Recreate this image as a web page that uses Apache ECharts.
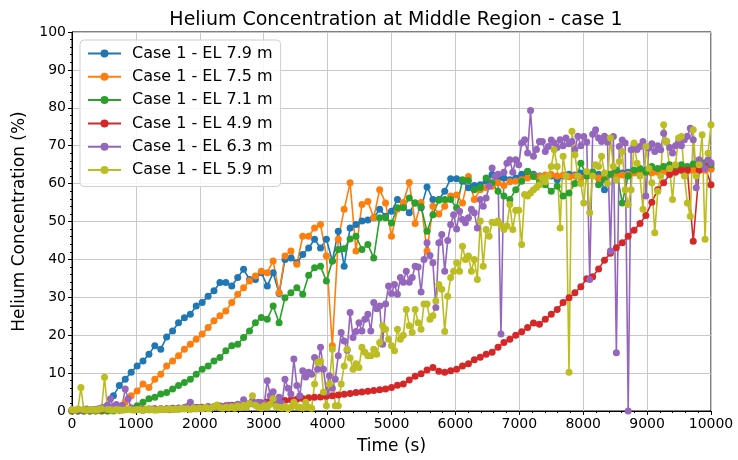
<!DOCTYPE html>
<html>
<head>
<meta charset="utf-8">
<script src="https://cdn.jsdelivr.net/npm/echarts@6/dist/echarts.min.js"></script>
<style>html,body{margin:0;padding:0;background:#fff}#c{width:738px;height:460px}</style>
</head>
<body>
<div id="c"></div>
<script>
const seriesNames = ["Case 1 - EL 7.9 m","Case 1 - EL 7.5 m","Case 1 - EL 7.1 m","Case 1 - EL 4.9 m","Case 1 - EL 6.3 m","Case 1 - EL 5.9 m"];
const xTicks = [0,1000,2000,3000,4000,5000,6000,7000,8000,9000,10000];
const yTicks = [0,10,20,30,40,50,60,70,80,90,100];

// sample times (s) for the four smooth probes
const times = [0,93,185,278,370,463,556,648,741,833,926,1019,1111,1204,1296,1389,1481,1574,1667,1759,1852,1944,2037,2130,2222,2315,2407,2500,2593,2685,2778,2870,2963,3056,3148,3241,3333,3426,3519,3611,3704,3796,3889,3981,4074,4167,4259,4352,4444,4537,4630,4722,4815,4907,5000,5093,5185,5278,5370,5463,5556,5648,5741,5833,5926,6019,6111,6204,6296,6389,6481,6574,6667,6759,6852,6944,7037,7130,7222,7315,7407,7500,7593,7685,7778,7870,7963,8056,8148,8241,8333,8426,8519,8611,8704,8796,8889,8981,9074,9167,9259,9352,9444,9537,9630,9722,9815,9907,10000];

// sample times (s) for the two noisy probes
const timesFine = [0,46,93,139,185,231,278,324,370,417,463,509,556,602,648,694,741,787,833,880,926,972,1019,1065,1111,1157,1204,1250,1296,1343,1389,1435,1481,1528,1574,1620,1667,1713,1759,1806,1852,1898,1944,1991,2037,2083,2130,2176,2222,2269,2315,2361,2407,2454,2500,2546,2593,2639,2685,2731,2778,2824,2870,2917,2963,3009,3056,3102,3148,3194,3241,3287,3333,3380,3426,3472,3519,3565,3611,3657,3704,3750,3796,3843,3889,3935,3981,4028,4074,4120,4167,4213,4259,4306,4352,4398,4444,4491,4537,4583,4630,4676,4722,4769,4815,4861,4907,4954,5000,5046,5093,5139,5185,5231,5278,5324,5370,5417,5463,5509,5556,5602,5648,5694,5741,5787,5833,5880,5926,5972,6019,6065,6111,6157,6204,6250,6296,6343,6389,6435,6481,6528,6574,6620,6667,6713,6759,6806,6852,6898,6944,6991,7037,7083,7130,7176,7222,7269,7315,7361,7407,7454,7500,7546,7593,7639,7685,7731,7778,7824,7870,7917,7963,8009,8056,8102,8148,8194,8241,8287,8333,8380,8426,8472,8519,8565,8611,8657,8704,8750,8796,8843,8889,8935,8981,9028,9074,9120,9167,9213,9259,9306,9352,9398,9444,9491,9537,9583,9630,9676,9722,9769,9815,9861,9907,9954,10000];

const el79 = [0,0,0,0,0.3,0.8,1.4,4,6.7,8.4,10.2,11.9,13.2,15,17.2,16.3,19.5,21.1,23.3,24.6,25.5,27.7,28.6,30.3,31.7,33.9,33.9,33,35.2,37.4,34.7,34.7,36.5,33,36.5,31,40,40.4,39.1,41.3,43,45.3,43,45.3,39.6,47.4,38.2,48.3,49.2,50.1,50.4,51,53.2,51.4,52.7,55.8,54,52.3,54.9,53.6,59.1,55.8,55.8,58,61.3,61.3,60.6,58.9,59.5,59.7,60.6,62.4,61.5,61.5,61,61.5,62.5,63.2,62.5,62,61.8,62,61,62,62.5,62.3,62.8,62.5,63,62.5,58.4,62.5,63,62.8,63,63.5,63,63.5,63.5,63.2,63.5,63.8,63.5,64,63.8,64,64.2,64,64];

const el75 = [0,0,0,0,0,0,0,0.3,1,2.3,4,5.3,7.1,6.2,8.4,9.7,11.9,13.2,14.6,16.3,17.6,18.9,20.3,22,23.8,25.1,26.4,28.6,30.8,32.5,34.3,35.6,36.9,36.5,39.6,31.2,40.9,42.2,38.7,46.1,46.1,48.3,49.2,40.9,17.2,45.3,53.2,60.2,42.2,54.5,55.3,51,58.4,54.9,46.1,53.2,55,60.3,49.5,55,42.2,54,52,54,56.7,57,54.9,61.9,55.8,58.4,58.9,59.3,60.2,59.5,60.5,60.6,61,61.5,62,61.9,62.3,62.4,62,62.2,61.8,62,61.5,62,62.3,61.5,62,62.5,62,62.3,62.5,62.8,62.5,63,62.8,63,63.2,63,63.2,63.5,63.3,63.5,63.6,63.5,63.8];

const el71 = [0,0,0,0,0,0,0,0,0.2,0.4,0.8,1.4,2.3,3.2,3.6,4.5,4.9,5.8,6.7,7.5,8.4,9.7,11,11.9,13.2,14.1,15.9,17.2,17.6,19.4,21.1,23.3,24.7,24.2,27.7,23.3,29.9,31.2,32.5,30.8,35.8,37.8,38.2,34.3,39.6,42.6,42.8,45.4,46.1,42.6,43.9,40.4,51,51,49.6,53.6,53.6,56.2,54.9,53.9,47.4,51.8,55.6,55.8,55.8,53.6,61,60.8,58.4,59,61.5,60.2,58,56.7,55.8,58.4,60.6,63.2,61.9,60.2,59.7,58,59.3,56.7,57.5,60,65.4,62,63,59.7,61,62.5,63.5,54.9,62,63.5,64,63,64.5,64,64.5,65,64.5,65,64.5,65.2,65,65.5,65];

const el49 = [0.2,0.2,0.2,0.3,0.2,0.3,0.3,0.3,0.4,0.4,0.4,0.5,0.5,0.5,0.6,0.6,0.6,0.7,0.7,0.8,0.8,0.9,1,1.1,1.2,1.3,1.4,1.5,1.6,1.8,1.9,2,2.2,2.4,2.5,2.7,2.8,3,3.1,3.3,3.5,3.6,3.7,3.9,4,4.2,4.4,4.6,4.9,5,5.2,5.4,5.6,5.8,6.2,6.8,7.1,8.2,9.2,9.8,10.8,11.5,10.5,10.2,10.6,11,11.9,12.5,13.5,14.2,15,15.5,16.8,18.1,18.9,20,20.9,22,23.2,22.9,24.2,25.5,26.8,28.6,29.9,31.2,32.8,34.9,35.4,37.5,39.8,41.6,43.1,44.4,46.1,47.7,49.5,51.6,55.1,58.4,60.2,62.4,63,63.5,63.5,44.8,63.5,64.5,59.7];

const el63 = [0.3,0.2,0.4,0.2,0.3,0.5,0.2,0.4,0.3,0.6,0.5,1,1.5,3.2,1,1.7,0.8,1.5,5.8,3.2,0.8,0.4,0.3,0.5,0.2,0.4,0.3,0.5,0.4,0.3,0.6,0.4,0.5,0.3,0.6,0.5,0.8,0.6,0.9,1.2,2.3,1,0.7,0.9,0.6,0.8,1.1,0.7,0.9,1.3,0.8,1.2,1,1.5,1.1,1.4,1.8,1.2,3,1.5,2,2.7,1.6,2.3,1.2,2,8,4,5.1,2.5,3.6,2,8.4,6,4.5,13.7,6.7,4,10.6,9,10.2,9.7,14.1,11,16.8,11,5,9.3,6,8.4,14.6,20.7,18.5,16,26,19.4,21,23.3,21.1,24.2,25.5,21.1,28.6,27,27.7,17.6,28.2,33,31,33.4,30.8,35.2,34,36.9,34,35.2,38.2,38,31.4,40,44.4,41,39.1,27.3,44.4,46.6,36.9,45,49.2,51.8,48,52.7,50.5,49.7,51,53.2,52.3,48.3,55.8,54,56.2,59.3,64.1,61.9,62.5,20.3,63,65.4,66.3,63,66.3,65,70.7,71.6,68.1,79.3,67.2,69,71.1,71.1,68.5,69.8,71.5,70.7,69.5,71.6,70,72,70.5,71.1,69,72.5,70,72.4,71,34.7,73,74.2,72,71.1,72.5,71,42.2,72.4,15.4,69.8,71.5,70.7,0,68.9,70.3,69,69.8,71.1,56.7,69.4,70.5,68.5,70,68.9,73.3,71.1,69.5,68.1,70,71,70,71.6,72.5,74.6,71.6,58.9,66.3,65,64,66.3,65.5];

const el59 = [0.3,0.2,0.5,6.2,0.3,0.2,0.4,0.3,0.2,0.4,0.6,8.9,0.4,0.3,0.2,0.4,0.3,0.2,0.3,0.5,0.3,0.2,0.4,0.3,0.2,0.5,0.3,0.4,0.2,0.3,0.5,0.3,0.4,0.6,0.3,0.5,0.4,0.7,0.5,0.6,0.4,0.8,0.5,0.7,0.6,1,0.6,0.8,1.2,1.6,0.9,0.7,1,0.8,1.1,0.7,1.3,0.9,1.5,1,2,4,1.5,1,0.8,1.4,1,1.8,3.2,1.2,1,0.8,1.2,0.6,1,2.3,1.2,1,0.8,2.3,1,0.7,7.1,12.8,13.2,5,1.4,7.1,16.3,1.4,1.4,7.1,11.9,16.3,14,11,12.5,11.5,16.8,15.5,14.6,14.6,16.3,15,18.1,22.5,21.6,18.9,17.2,15.9,21.6,18.9,20,26.8,22.5,20.7,26.8,23.3,21.6,28.2,28.2,24.2,25.1,29,33.4,32.1,21,30.3,35.2,36.9,39.1,36.9,43.5,40,40.9,36.9,40,34.7,50.1,38.2,47.9,46.1,49.8,49.7,50.1,49,47.9,48.8,54.5,47.9,53,53,43.9,57.1,56.7,57.5,58.4,59,59.7,61.5,60.5,62,64.5,68.9,64.5,48.3,67.2,62,10.2,73.8,67.6,62,60,54.9,63.2,52.3,62,65,64.5,67.2,62.8,60,72,64.5,61,65.8,68.5,58.4,54.5,58.4,70.7,65.4,62,53.2,69.8,64,60.2,47,58,62,75.5,71.1,64,55.8,65,72,72.4,62,54.9,51.4,74.2,62,65,72.9,45.3,68,75.5];

const colors = ["#1f77b4","#ff7f0e","#2ca02c","#d62728","#9467bd","#bcbd22"];
const valueSets = [el79, el75, el71, el49, el63, el59];
const timeSets = [times, times, times, times, timesFine, timesFine];

const FONT = "DejaVu Sans";
const chart = echarts.init(document.getElementById('c'), null, {renderer: 'canvas'});

const series = seriesNames.map((name, k) => ({
  name: name,
  type: 'line',
  data: valueSets[k].map((v, i) => [timeSets[k][i], v]),
  symbol: 'circle',
  symbolSize: 7,
  showSymbol: true,
  showAllSymbol: true,
  clip: true,
  lineStyle: {width: 1.6, color: colors[k]},
  itemStyle: {color: colors[k], borderWidth: 0},
  emphasis: {disabled: true},
  animation: false
}));

chart.setOption({
  animation: false,
  color: colors,
  title: {
    text: 'Helium Concentration at Middle Region - case 1',
    left: 391, top: 6, textAlign: 'center',
    textStyle: {fontFamily: FONT, fontSize: 19, fontWeight: 'normal', color: '#000'}
  },
  legend: {
    orient: 'vertical',
    left: 80, top: 40,
    padding: [5, 8, 8, 7],
    itemGap: 6.3,
    itemWidth: 33,
    itemHeight: 10,
    backgroundColor: 'rgba(255,255,255,0.85)',
    borderColor: '#d0d0d0',
    borderWidth: 1,
    borderRadius: 4,
    textStyle: {fontFamily: FONT, fontSize: 16, color: '#000', lineHeight: 17, padding: [0, 0, 0, 6]},
    data: seriesNames
  },
  grid: {left: 72, right: 27, top: 32, bottom: 48, show: true, borderColor: '#000', borderWidth: 1, backgroundColor: 'transparent'},
  xAxis: {
    type: 'value', min: xTicks[0], max: xTicks[xTicks.length - 1], interval: 1000,
    name: 'Time (s)', nameLocation: 'middle', nameGap: 27,
    nameTextStyle: {fontFamily: FONT, fontSize: 17, color: '#000'},
    axisLine: {show: true, lineStyle: {color: '#000', width: 1}},
    axisTick: {show: true, length: 4, lineStyle: {color: '#000'}},
    minorTick: {show: true, splitNumber: 5, length: 2, lineStyle: {color: '#000'}},
    axisLabel: {fontFamily: FONT, fontSize: 14, color: '#000', margin: 6, formatter: v => String(v)},
    splitLine: {show: true, lineStyle: {color: '#c8c8c8', width: 1}}
  },
  yAxis: {
    type: 'value', min: yTicks[0], max: yTicks[yTicks.length - 1], interval: 10,
    name: 'Helium Concentration (%)', nameLocation: 'middle', nameGap: 42,
    nameTextStyle: {fontFamily: FONT, fontSize: 17, color: '#000'},
    axisLine: {show: true, lineStyle: {color: '#000', width: 1}},
    axisTick: {show: true, length: 4, lineStyle: {color: '#000'}},
    minorTick: {show: true, splitNumber: 5, length: 2, lineStyle: {color: '#000'}},
    axisLabel: {fontFamily: FONT, fontSize: 14, color: '#000', margin: 6, formatter: v => String(v)},
    splitLine: {show: true, lineStyle: {color: '#c8c8c8', width: 1}}
  },
  series: series
});
</script>
</body>
</html>
